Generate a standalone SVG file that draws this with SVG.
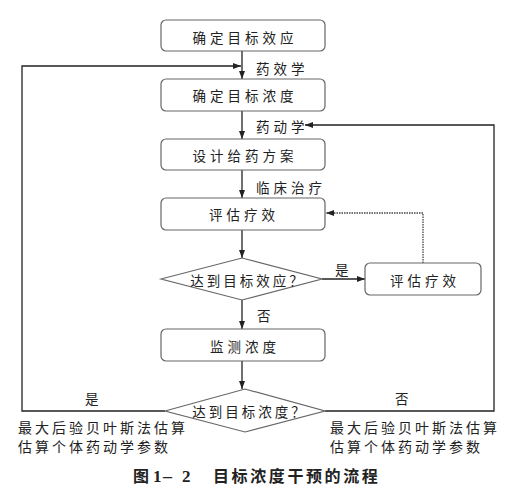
<svg xmlns="http://www.w3.org/2000/svg" width="514" height="501" viewBox="0 0 514 501">
<defs>
<marker id="arr" viewBox="0 0 8 6" refX="8" refY="3" markerWidth="8" markerHeight="6" markerUnits="userSpaceOnUse" orient="auto">
<path d="M0,0 L8,3 L0,6 Z" fill="#222"/>
</marker>
</defs>
<style>
.box{fill:#fff;stroke:#666;stroke-width:1.2}
.t{font-family:"Noto Sans CJK SC","Noto Sans",sans-serif;font-size:13.5px;fill:#222;letter-spacing:4px}
.c{text-anchor:middle}
.d{letter-spacing:3px}
.n{font-family:"Noto Sans CJK SC","Noto Sans",sans-serif;font-size:14px;fill:#222;letter-spacing:3px}
.ln{fill:none;stroke:#222;stroke-width:1.3}
.dot{fill:none;stroke:#444;stroke-width:1.3;stroke-dasharray:1.5 1}
.cap{font-family:"Noto Sans CJK SC","Noto Sans",sans-serif;font-size:16px;font-weight:bold;fill:#222}
</style>
<rect width="514" height="501" fill="#fff"/>
<g id="connectors">
<line class="ln" x1="242" y1="51" x2="242" y2="79" marker-end="url(#arr)"/>
<line class="ln" x1="242" y1="111" x2="242" y2="139" marker-end="url(#arr)"/>
<line class="ln" x1="242" y1="170" x2="242" y2="198" marker-end="url(#arr)"/>
<line class="ln" x1="242" y1="230" x2="242" y2="258" marker-end="url(#arr)"/>
<line class="ln" x1="242" y1="300" x2="242" y2="329" marker-end="url(#arr)"/>
<line class="ln" x1="242" y1="361" x2="242" y2="389" marker-end="url(#arr)"/>
<line class="ln" x1="322" y1="279" x2="365" y2="279" marker-end="url(#arr)"/>
<polyline class="ln" points="165,411 22,411 22,66 241,66" marker-end="url(#arr)"/>
<polyline class="ln" points="325,411 494,411 494,125 305,125" marker-end="url(#arr)"/>
<polyline class="dot" points="423,263 423,213 326,213" marker-end="url(#arr)"/>
<text class="t" x="256" y="73.5">药效学</text>
<text class="t" x="256" y="131.5">药动学</text>
<text class="t" x="256" y="193">临床治疗</text>
<text class="t" x="335" y="275">是</text>
<text class="t" x="257" y="321">否</text>
<text class="t" x="85" y="404">是</text>
<text class="t" x="395" y="404">否</text>
</g>
<g id="n1"><rect class="box" x="161" y="20" width="164" height="31" rx="5"/><text class="t c" x="245" y="43">确定目标效应</text></g>
<g id="n2"><rect class="box" x="161" y="79" width="164" height="32" rx="5"/><text class="t c" x="245" y="101">确定目标浓度</text></g>
<g id="n3"><rect class="box" x="161" y="139" width="164" height="31" rx="5"/><text class="t c" x="245" y="161">设计给药方案</text></g>
<g id="n4"><rect class="box" x="161" y="198" width="164" height="32" rx="5"/><text class="t c" x="244" y="220">评估疗效</text></g>
<g id="d1"><polygon class="box" points="161,279 242,258 322,279 242,300"/><text class="t c d" x="248" y="285.5">达到目标效应？</text></g>
<g id="n6"><rect class="box" x="365" y="263" width="116" height="32" rx="5"/><text class="t c" x="425" y="285.5">评估疗效</text></g>
<g id="n5"><rect class="box" x="161" y="329" width="164" height="32" rx="5"/><text class="t c" x="245" y="352">监测浓度</text></g>
<g id="d2"><polygon class="box" points="165,411 245,389 325,411 245,432"/><text class="t c d" x="250" y="417">达到目标浓度？</text></g>
<g id="notes">
<text class="n" x="18" y="433">最大后验贝叶斯法估算</text>
<text class="n" x="18" y="452">估算个体药动学参数</text>
<text class="n" x="330" y="433">最大后验贝叶斯法估算</text>
<text class="n" x="330" y="452">估算个体药动学参数</text>
</g>
<g id="caption">
<text class="cap" y="482"><tspan x="133">图</tspan><tspan x="153" font-family="Liberation Serif, serif" font-size="17">1</tspan><tspan x="161" font-size="13">－</tspan><tspan x="182" font-family="Liberation Serif, serif" font-size="17">2</tspan><tspan x="213" letter-spacing="2.6">目标浓度干预的流程</tspan></text>
</g>
</svg>
